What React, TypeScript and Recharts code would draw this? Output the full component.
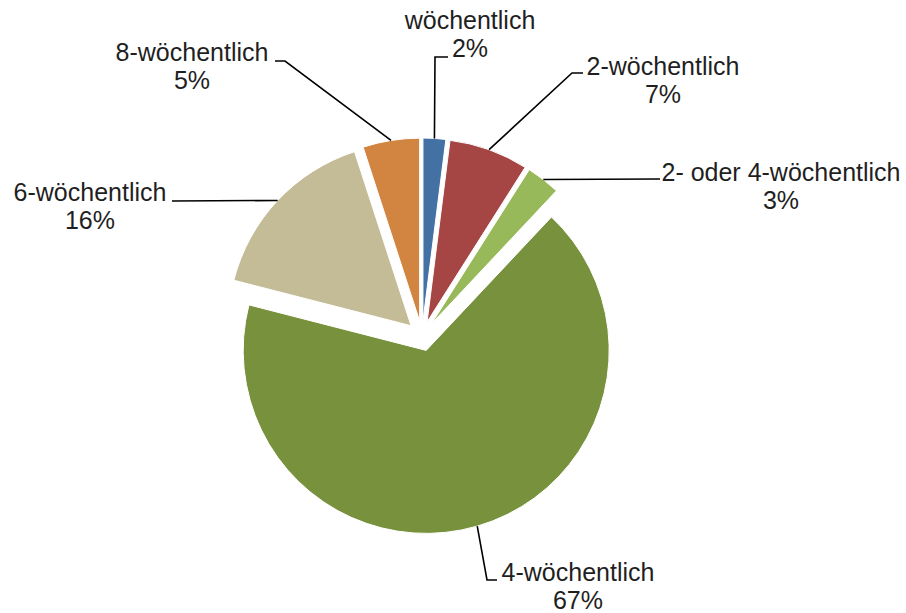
import React from 'react';
import { PieChart, Pie, Cell, Sector, Tooltip } from 'recharts';

const CATEGORIES = ['wöchentlich', '2-wöchentlich', '2- oder 4-wöchentlich', '4-wöchentlich', '6-wöchentlich', '8-wöchentlich'];
const SHARES = [2, 7, 3, 67, 16, 5];
const COLORS = ['#4471A4', '#A54644', '#98B95A', '#77913D', '#C4BC97', '#D28441'];

// label placement relative to the pie centre (text centre x, first baseline y, leader points after the slice edge)
const LABEL_LAYOUT = [
  { tx: 48, ty: -307, pts: [[13, -279], [26, -279]] },
  { tx: 241, ty: -261, pts: [[150, -263], [161, -263]] },
  { tx: 359, ty: -155, pts: [[238, -157]] },
  { tx: 156, ty: 245, pts: [[65, 244], [75, 244]] },
  { tx: -332, ty: -135, pts: [[-250, -135]] },
  { tx: -230, ty: -275, pts: [[-137, -275], [-147, -275]] },
];

const data = CATEGORIES.map((name, i) => ({ name, value: SHARES[i] }));

const EXPLODE = 15;
const RAD = Math.PI / 180;
const CX = 422;
const CY = 336;
const R = 183;

const renderShape = (props: any) => {
  const { cx, cy, midAngle } = props;
  const dx = EXPLODE * Math.cos(-midAngle * RAD);
  const dy = EXPLODE * Math.sin(-midAngle * RAD);
  return <Sector {...props} cx={cx + dx} cy={cy + dy} />;
};

const renderLabel = (props: any) => {
  const { cx, cy, midAngle, outerRadius, index, value, name } = props;
  const cos = Math.cos(-midAngle * RAD);
  const sin = Math.sin(-midAngle * RAD);
  const ox = cx + (outerRadius + EXPLODE) * cos;
  const oy = cy + (outerRadius + EXPLODE) * sin;
  const lay = LABEL_LAYOUT[index];
  const points = [[ox, oy], ...lay.pts.map(([x, y]) => [cx + x, cy + y])]
    .map((p) => p.join(','))
    .join(' ');
  return (
    <g key={`lbl-${index}`}>
      <polyline points={points} fill="none" stroke="#000" strokeWidth={1.6} />
      <text
        x={cx + lay.tx}
        y={cy + lay.ty}
        textAnchor="middle"
        fill="#1f1f1f"
        fontSize={25}
        fontFamily="'Liberation Sans', Arial, sans-serif"
      >
        <tspan x={cx + lay.tx} y={cy + lay.ty}>{name}</tspan>
        <tspan x={cx + lay.tx} y={cy + lay.ty + 28}>{`${value}%`}</tspan>
      </text>
    </g>
  );
};

export default function App() {
  return (
    <div style={{ position: 'absolute', left: 0, top: 0, width: 906, height: 613, background: '#fff' }}>
      <PieChart width={906} height={613} margin={{ top: 0, right: 0, bottom: 0, left: 0 }}>
        <Pie
          data={data}
          dataKey="value"
          nameKey="name"
          cx={CX}
          cy={CY}
          outerRadius={R}
          startAngle={90}
          endAngle={-270}
          stroke="#fff"
          strokeWidth={1}
          isAnimationActive={false}
          labelLine={false}
          label={renderLabel}
          shape={renderShape}
          activeShape={renderShape}
          inactiveShape={renderShape}
        >
          {data.map((d, i) => (
            <Cell key={d.name} fill={COLORS[i]} />
          ))}
        </Pie>
        <Tooltip defaultIndex={0} content={() => null} cursor={false} />
      </PieChart>
    </div>
  );
}
